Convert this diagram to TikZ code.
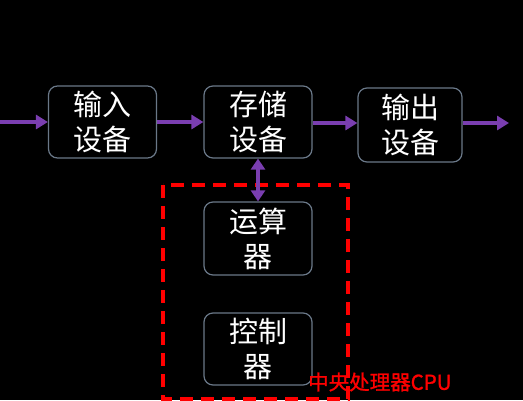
\documentclass[tikz,border=0pt]{standalone}
\usepackage{fontspec}
\setmainfont{Noto Sans CJK SC}
\newfontfamily\cpufont[FakeBold=1.2]{Noto Sans CJK SC}
\usetikzlibrary{arrows.meta}
\definecolor{arrowpurple}{HTML}{7A3EB0}
\definecolor{boxline}{HTML}{6A7888}
\tikzset{
  unitbox/.style={draw=boxline, line width=1.2pt, fill=black, rounded corners=9pt,
    text=white, align=center, minimum width=108pt, minimum height=72pt,
    font=\fontsize{29}{35}\selectfont, inner sep=0pt},
  flow/.style={draw=arrowpurple, line width=4.5pt, -{Triangle[length=12pt,width=14pt]}},
  biflow/.style={draw=arrowpurple, line width=4.5pt, {Triangle[length=11pt,width=14pt]}-{Triangle[length=11pt,width=14pt]}},
  cpubox/.style={draw=red, line width=3.2pt, dash pattern=on 13pt off 8pt},
}
\begin{document}
\begin{tikzpicture}[x=1pt,y=-1pt]
\fill[black] (0,0) rectangle (523,400);
\useasboundingbox (0,0) rectangle (523,400);
% red dashed CPU frame
\draw[cpubox] (163,185) rectangle (348,399);
% boxes
\node[unitbox] (in)  at (102.5,122) {输入\\设备};
\node[unitbox] (mem) at (258,122) {存储\\设备};
\node[unitbox, minimum width=104pt, minimum height=74pt] (out) at (410,125) {输出\\设备};
\node[unitbox, minimum height=73pt] (alu) at (258,238.5) {运算\\器};
\node[unitbox, minimum height=72pt] (ctl) at (258,349) {控制\\器};
% connectors
\coordinate (src) at (0,122);
\coordinate (dst) at (509,123);
\draw[flow] (src) -- (in.west);
\draw[flow] (in.east) -- (mem.west);
\draw[flow] (mem.east |- 0,123) -- (out.west |- 0,123);
\draw[flow] (out.east |- 0,123) -- (dst);
\draw[biflow] (mem.south) -- (alu.north);
% label
\node[text=red, anchor=west, inner sep=0pt, font=\cpufont\fontsize{20.5}{20}\selectfont] (cpu) at (308,382) {中央处理器CPU};
\end{tikzpicture}
\end{document}
